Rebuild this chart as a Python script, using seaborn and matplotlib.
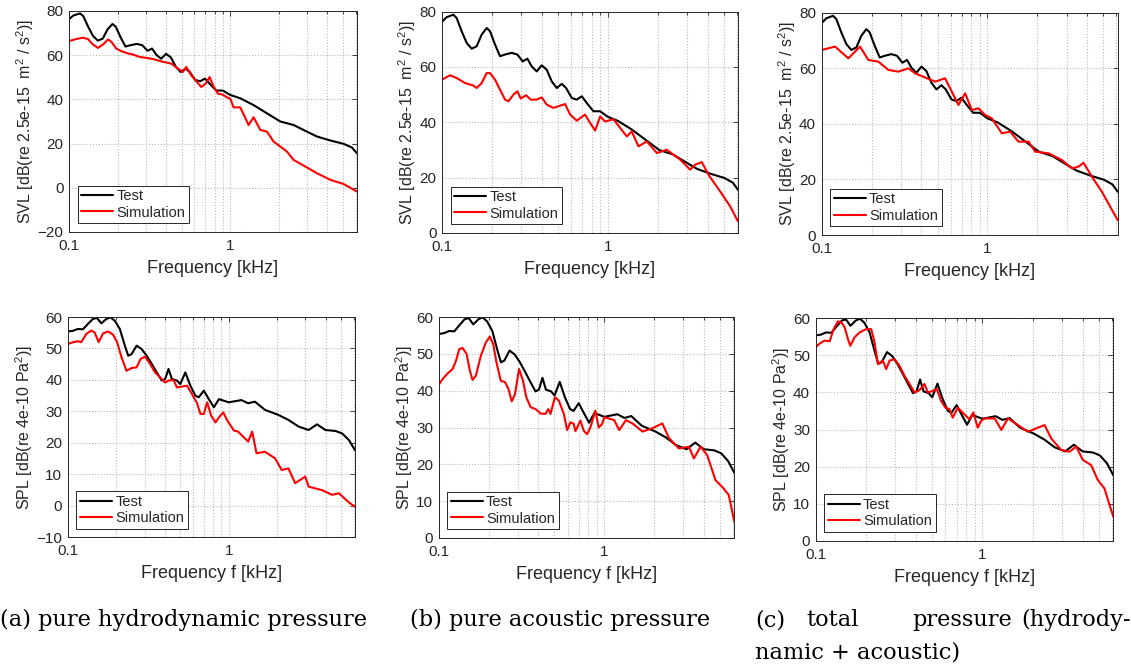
import matplotlib
matplotlib.use('Agg')
import matplotlib.pyplot as plt
import matplotlib.ticker as mticker
import numpy as np
import pandas as pd
import seaborn as sb

# Test curves (same measurement in every panel of a row), frequency in kHz
top_test_f = [0.1, 0.1067, 0.1171, 0.1226, 0.1314, 0.1409, 0.151, 0.1619, 0.1735, 0.186,
              0.1949, 0.2089, 0.2239, 0.2401, 0.2633, 0.2849, 0.3068, 0.3274, 0.3477, 0.3728,
              0.3996, 0.4283, 0.4592, 0.4922, 0.5278, 0.5605, 0.6063, 0.65, 0.6967, 0.7468,
              0.8191, 0.8991, 1.0, 1.153, 1.395, 1.688, 2.042, 2.47, 2.987, 3.445,
              4.167, 5.04, 5.678, 6.1]
top_test = [76.3, 78, 78.9, 77.7, 72.9, 68.7, 66.6, 67.5, 71.7, 74.1,
            72.9, 68.1, 63.9, 64.5, 65.1, 64.5, 62, 63, 60.2, 58.4,
            60.6, 59, 54.8, 52.4, 53.9, 52.4, 48.8, 48.2, 49.4, 47,
            44, 44, 42, 40.5, 37.4, 33.7, 30, 28.4, 25.4, 23.2,
            21.4, 19.9, 18.2, 15.6]

bot_test_f = [0.1, 0.1075, 0.1155, 0.1242, 0.1335, 0.1434, 0.1519, 0.1617, 0.1739, 0.1842,
              0.1961, 0.2107, 0.2264, 0.2375, 0.2493, 0.2679, 0.2879, 0.3094, 0.3325, 0.3574,
              0.3842, 0.4031, 0.423, 0.4439, 0.477, 0.5005, 0.5379, 0.5781, 0.6214, 0.652,
              0.7007, 0.7531, 0.8093, 0.87, 0.935, 1.0, 1.2, 1.322, 1.455, 1.681,
              2.037, 2.353, 2.719, 3.14, 3.541, 3.993, 4.612, 5.077, 5.59, 6.1]
bot_test = [55.4, 55.6, 56.2, 56.1, 57.8, 59.4, 59.7, 58, 59.4, 59.9,
            58.8, 56.2, 50.9, 47.7, 48.2, 50.9, 49.8, 47.7, 45.1, 42.4,
            39.8, 40.3, 43.5, 40.3, 39.8, 38.7, 42.4, 38.2, 35, 34.5,
            36.6, 33.9, 31.3, 33.9, 33.4, 32.9, 33.6, 32.6, 33.1, 30.5,
            28.9, 27.3, 25.2, 24.1, 25.9, 24.1, 23.8, 23, 20.9, 17.7]

# Simulation curves
hydro_svl_f = [0.1, 0.111, 0.1221, 0.1311, 0.1408, 0.1513, 0.1624, 0.1745, 0.183, 0.1965,
               0.2111, 0.2321, 0.2493, 0.2742, 0.3016, 0.3348, 0.3825, 0.4309, 0.4738, 0.5089,
               0.5337, 0.5732, 0.6155, 0.6609, 0.7033, 0.7446, 0.7808, 0.8385, 0.9006, 0.9445,
               1.0, 1.049, 1.153, 1.299, 1.395, 1.535, 1.688, 1.857, 2.245, 2.47,
               2.987, 3.445, 4.167, 5.04, 6.1]
hydro_svl = [66.4, 67.3, 67.9, 67.3, 64.8, 63.3, 64.8, 67.1, 66.1, 63,
             61.8, 60.8, 60.3, 59.2, 58.8, 58.2, 57, 56.2, 53.9, 52.4,
             54.7, 50.9, 48.2, 45.6, 47.1, 50.1, 46.4, 42.6, 42.1, 41.1,
             40.3, 36.4, 36.4, 28.4, 31.9, 26.2, 25.4, 20.9, 16.4, 12.6,
             9.2, 6.6, 3.6, 1.7, -1.7]

acou_svl_f = [0.1, 0.1118, 0.1226, 0.1376, 0.1546, 0.1619, 0.1735, 0.186, 0.1949, 0.2089,
              0.2239, 0.2401, 0.2514, 0.2696, 0.2849, 0.2984, 0.3214, 0.3429, 0.3728, 0.3996,
              0.4283, 0.4699, 0.5037, 0.5526, 0.5925, 0.65, 0.7297, 0.7825, 0.8385, 0.8991,
              0.9636, 1.082, 1.302, 1.396, 1.532, 1.72, 1.976, 2.27, 2.733, 3.14,
              3.367, 3.694, 4.053, 4.765, 5.475, 6.1]
acou_svl = [55.4, 57, 56, 54.2, 53.3, 52.4, 54.2, 57.8, 57.8, 55.4,
            51.8, 48.2, 47.6, 50, 51.2, 48.6, 49.8, 48.2, 48.2, 49,
            46.4, 45.2, 45.8, 46.6, 42.8, 40.6, 42.8, 39.8, 37, 42.1,
            40.3, 41.1, 34.9, 36.7, 31.3, 33.1, 28.9, 30.1, 26.5, 22.9,
            24.7, 25.6, 21, 15, 9.6, 4.2]

total_svl_f = [0.1, 0.1204, 0.1449, 0.1704, 0.1912, 0.2198, 0.2526, 0.2903, 0.3336, 0.3659,
               0.4205, 0.4832, 0.5553, 0.6683, 0.7334, 0.8044, 0.8827, 0.9681, 1.062, 1.221,
               1.37, 1.539, 1.768, 1.94, 2.335, 2.811, 3.229, 3.542, 3.797, 4.264,
               4.899, 5.5, 6.1]
total_svl = [66.6, 67.8, 63.6, 67.8, 63, 62.4, 59.4, 58.8, 60, 58.2,
             56.7, 55.2, 56.4, 46.8, 51, 45, 45.6, 43.2, 42, 36.6,
             37.2, 33.6, 33.6, 30, 29.4, 27, 24, 24.6, 26, 21,
             15.6, 10.2, 5.4]

hydro_spl_f = [0.1, 0.1075, 0.1155, 0.1212, 0.1303, 0.14, 0.1469, 0.1556, 0.1657, 0.1781,
               0.1913, 0.2027, 0.2158, 0.2319, 0.2493, 0.2679, 0.2838, 0.3021, 0.3247, 0.349,
               0.3751, 0.4031, 0.423, 0.4547, 0.477, 0.5126, 0.551, 0.5922, 0.6366, 0.6677,
               0.7007, 0.7351, 0.7787, 0.8288, 0.87, 0.926, 0.9811, 1.029, 1.08, 1.144,
               1.322, 1.4, 1.49, 1.681, 1.942, 2.137, 2.353, 2.591, 2.992, 3.14,
               3.805, 4.395, 4.84, 5.59, 6.1]
hydro_spl = [51.4, 52, 52.3, 52, 54.6, 55.7, 55.1, 52, 54.8, 55.4,
             54.4, 52, 47.2, 42.9, 43.8, 44, 46.7, 47.4, 45.1, 42.4,
             40.8, 39.2, 39.8, 40, 37.6, 37.9, 38.2, 35.5, 32.6, 29.2,
             29.2, 32.9, 28.6, 26.5, 28.1, 29.7, 27.1, 25.5, 23.9, 23.6,
             20.4, 23.6, 16.7, 17.2, 15.1, 11.4, 11.9, 7.2, 9.3, 6.1,
             5, 3.5, 4, 1.1, -0.3]

acou_spl_f = [0.1, 0.1057, 0.1133, 0.1214, 0.1271, 0.1331, 0.1394, 0.1473, 0.1543, 0.1601,
              0.1677, 0.1797, 0.1926, 0.2035, 0.2132, 0.2232, 0.237, 0.2517, 0.2635, 0.276,
              0.289, 0.3055, 0.3228, 0.3381, 0.359, 0.3847, 0.4123, 0.4418, 0.4584, 0.4734,
              0.5028, 0.5314, 0.5694, 0.5963, 0.6244, 0.6538, 0.6691, 0.7171, 0.751, 0.7866,
              0.8237, 0.8829, 0.9246, 0.9683, 1.0, 1.148, 1.231, 1.35, 1.48, 1.7,
              1.953, 2.242, 2.459, 2.824, 3.243, 3.476, 3.812, 4.181, 4.692, 5.145,
              5.643, 6.1]
acou_spl = [41.6, 43.2, 44.7, 45.9, 48.1, 51.3, 51.6, 50, 45.4, 42.9,
            44.1, 49.5, 53.1, 54.7, 52.7, 47.7, 42.7, 42.3, 40.5, 37.1,
            39.1, 45.9, 42.7, 38.2, 35.5, 35, 33.8, 33.7, 35, 33.7,
            38.2, 37.3, 33.7, 29.3, 31.4, 31, 29, 31.9, 29.1, 28.2,
            30, 34.6, 30, 30.9, 32.8, 32, 29.3, 32, 31.1, 28.9,
            29.8, 31.1, 27.1, 24.3, 24.8, 21.6, 24.8, 22.5, 15.7, 13.9,
            11.7, 4.4]

total_spl_f = [0.1, 0.1057, 0.1132, 0.1213, 0.1282, 0.136, 0.1424, 0.1492, 0.1562, 0.1613,
               0.1712, 0.1834, 0.2011, 0.2154, 0.2256, 0.2362, 0.2531, 0.265, 0.2775, 0.2973,
               0.3184, 0.3411, 0.3655, 0.3915, 0.4196, 0.4495, 0.4707, 0.4929, 0.5329, 0.5657,
               0.6002, 0.6344, 0.6643, 0.7117, 0.7452, 0.7802, 0.836, 0.8834, 0.9378, 0.9818,
               1.033, 1.186, 1.3, 1.425, 1.635, 1.877, 2.154, 2.362, 2.589, 2.972,
               3.334, 3.655, 4.007, 4.495, 4.928, 5.402, 6.1]
total_spl = [52.2, 53.2, 54, 53.8, 57.1, 59.2, 58.9, 57.6, 54.4, 52.6,
             54.9, 56.2, 57.1, 57.1, 53.5, 47.7, 48.6, 46.3, 48.6, 49,
             47.2, 44.5, 42.3, 40, 40.6, 42.3, 40, 40.3, 40.9, 37.7,
             35.9, 35.5, 33.2, 35.9, 35, 34.1, 32.8, 34.6, 30.5, 32.3,
             33, 33, 29.9, 33, 31.2, 29.4, 30.5, 31.2, 27.6, 24.5,
             24, 25.4, 21.8, 20.4, 16.4, 14.1, 6.5]

svl_label = 'SVL [dB(re 2.5e-15  m$^2$ / s$^2$)]'
spl_label = 'SPL [dB(re 4e-10 Pa$^2$)]'
svl_ticks_hydro = [-20, 0, 20, 40, 60, 80]
svl_ticks = [0, 20, 40, 60, 80]
spl_ticks_hydro = [-10, 0, 10, 20, 30, 40, 50, 60]
spl_ticks = [0, 10, 20, 30, 40, 50, 60]

INK = '#262626'
PALETTE = {'Test': 'black', 'Simulation': '#ff0000'}


def draw_panel(ax, test_f, test_v, sim_f, sim_v, ylabel, xlabel, yticks):
    df = pd.concat([
        pd.DataFrame({'freq': test_f, 'level': test_v, 'series': 'Test'}),
        pd.DataFrame({'freq': sim_f, 'level': sim_v, 'series': 'Simulation'}),
    ])
    sb.lineplot(data=df, x='freq', y='level', hue='series',
                hue_order=['Test', 'Simulation'], palette=PALETTE,
                estimator=None, linewidth=1.5, ax=ax)
    ax.set_xscale('log')
    ax.set_xlim(0.1, 6.1)
    ax.set_ylim(yticks[0], yticks[-1])
    ax.set_yticks(yticks)
    ax.set_xticks([0.1, 1])
    ax.xaxis.set_major_formatter(mticker.FixedFormatter(['0.1', '1']))
    ax.xaxis.set_minor_locator(mticker.LogLocator(base=10, subs=np.arange(2, 10)))
    ax.xaxis.set_minor_formatter(mticker.NullFormatter())
    ax.grid(True, which='major', linestyle=':', color='0.72', linewidth=0.8)
    ax.grid(True, which='minor', axis='x', linestyle=':', color='0.72', linewidth=0.8)
    ax.tick_params(which='both', direction='in', top=True, right=True,
                   colors=INK, labelsize=11, length=3.5, width=0.6)
    ax.tick_params(which='minor', length=2)
    ax.tick_params(axis='x', pad=5)
    ax.tick_params(axis='y', pad=4)
    for s in ax.spines.values():
        s.set_color(INK)
        s.set_linewidth(0.7)
    ax.set_xlabel(xlabel, fontsize=13, color=INK, labelpad=5)
    ax.set_ylabel(ylabel, fontsize=11.5, color=INK, labelpad=1)
    sb.move_legend(ax, 'lower left', title=None, frameon=True, fancybox=False,
                   edgecolor=INK, framealpha=1, fontsize=10.5, borderaxespad=0.6,
                   handlelength=2.2, handletextpad=0.2, borderpad=0.25,
                   labelspacing=0.15)
    ax.get_legend().get_frame().set_linewidth(0.7)


sb.set_style('white')
plt.rcParams['font.family'] = ['Liberation Sans', 'DejaVu Sans']
plt.rcParams['mathtext.default'] = 'regular'

fig = plt.figure(figsize=(11.31, 6.66), dpi=100)

panels = [
    ([0.0610, 0.6517, 0.2546, 0.3318], top_test_f, top_test, hydro_svl_f, hydro_svl,
     svl_label, 'Frequency [kHz]', svl_ticks_hydro),
    ([0.3908, 0.6502, 0.2617, 0.3323], top_test_f, top_test, acou_svl_f, acou_svl,
     svl_label, 'Frequency [kHz]', svl_ticks),
    ([0.7265, 0.6471, 0.2617, 0.3338], top_test_f, top_test, total_svl_f, total_svl,
     svl_label, 'Frequency [kHz]', svl_ticks),
    ([0.0599, 0.1932, 0.2540, 0.3308], bot_test_f, bot_test, hydro_spl_f, hydro_spl,
     spl_label, 'Frequency f [kHz]', spl_ticks_hydro),
    ([0.3879, 0.1922, 0.2614, 0.3318], bot_test_f, bot_test, acou_spl_f, acou_spl,
     spl_label, 'Frequency f [kHz]', spl_ticks),
    ([0.7212, 0.1881, 0.2631, 0.3339], bot_test_f, bot_test, total_spl_f, total_spl,
     spl_label, 'Frequency f [kHz]', spl_ticks),
]

for rect, tf, tv, sf, sv, ylab, xlab, yt in panels:
    ax = fig.add_axes(rect)
    draw_panel(ax, tf, tv, sf, sv, ylab, xlab, yt)

# sub-figure captions (serif, LaTeX-like)
cap = dict(family='DejaVu Serif', fontsize=16.2, color='black', va='center')
fig.text(0.0, 0.069, '(a) pure hydrodynamic pressure', ha='left', **cap)
fig.text(410 / 1131, 0.069, '(b) pure acoustic pressure', ha='left', **cap)
fig.text(755 / 1131, 0.069, '(c)', ha='left', **cap)
fig.text(806 / 1131, 0.069, 'total', ha='left', **cap)
fig.text(912 / 1131, 0.069, 'pressure', ha='left', **cap)
fig.text(1131 / 1131, 0.069, '(hydrody-', ha='right', **cap)
fig.text(755 / 1131, 0.021, 'namic + acoustic)', ha='left', **cap)

fig.savefig('out.png', dpi=100)
